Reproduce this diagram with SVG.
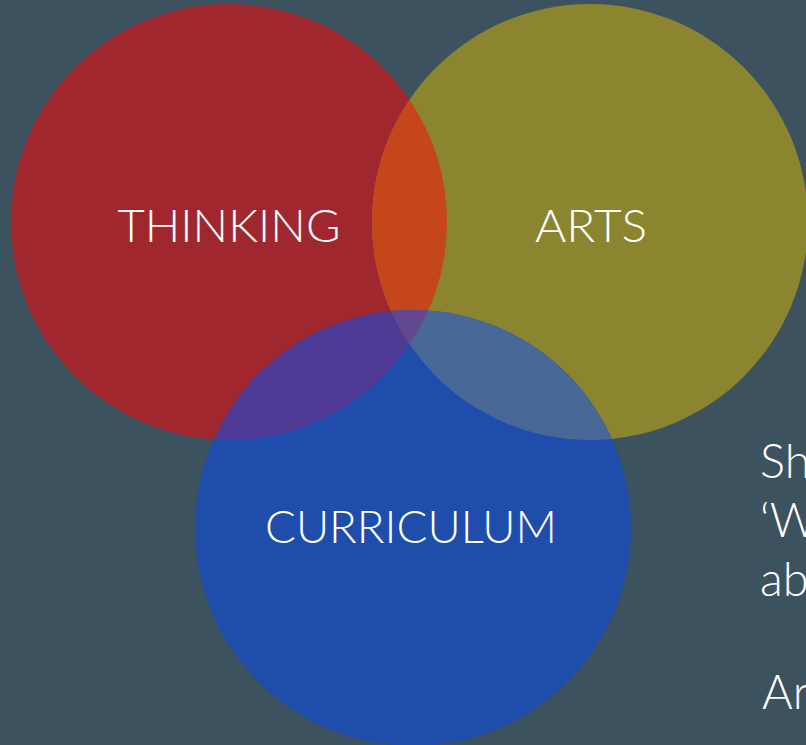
<svg xmlns="http://www.w3.org/2000/svg" width="806" height="745" viewBox="0 0 806 745">
  <style>
    .label { font-family: "Lato", "Noto Sans", "Liberation Sans", sans-serif; font-size: 46px; font-weight: 300; fill: #ffffff; text-anchor: middle; }
    .side { font-family: "Lato", "Noto Sans", "Liberation Sans", sans-serif; font-size: 47px; font-weight: 300; fill: #ffffff; }
  </style>
  <defs>
    <clipPath id="clip-thinking"><circle cx="229" cy="222" r="218"/></clipPath>
    <clipPath id="clip-arts"><circle cx="590" cy="222" r="218"/></clipPath>
  </defs>

  <rect width="806" height="745" fill="#3c525f"/>

  <!-- base circles -->
  <g id="thinking">
    <circle cx="229" cy="222" r="218" fill="#a1272f"/>
  </g>
  <g id="arts">
    <circle cx="590" cy="222" r="218" fill="#8b8530"/>
  </g>

  <!-- thinking ∩ arts -->
  <g id="thinking-arts" clip-path="url(#clip-thinking)">
    <circle cx="590" cy="222" r="218" fill="#c4461a"/>
  </g>

  <g id="curriculum">
    <circle cx="413" cy="528" r="218" fill="#1f4dac"/>
  </g>

  <!-- curriculum overlaps -->
  <g id="curriculum-thinking" clip-path="url(#clip-thinking)">
    <circle cx="413" cy="528" r="218" fill="#4e3995"/>
  </g>
  <g id="curriculum-arts" clip-path="url(#clip-arts)">
    <circle cx="413" cy="528" r="218" fill="#486898"/>
  </g>
  <g id="all-three" clip-path="url(#clip-arts)">
    <g clip-path="url(#clip-thinking)">
      <circle cx="413" cy="528" r="218" fill="#634890"/>
    </g>
  </g>

  <!-- circle labels -->
  <g id="labels">
    <text class="label" x="229" y="242" textLength="223" lengthAdjust="spacingAndGlyphs">THINKING</text>
    <text class="label" x="591" y="242" textLength="112" lengthAdjust="spacingAndGlyphs">ARTS</text>
    <text class="label" x="411" y="543" textLength="292" lengthAdjust="spacingAndGlyphs">CURRICULUM</text>
  </g>

  <!-- side text, running past the right edge -->
  <g id="side-text">
    <text class="side" x="760" y="478">Sh</text>
    <text class="side" x="760" y="537">‘W</text>
    <text class="side" x="760" y="596">ab</text>
    <text class="side" x="762" y="709">Ar</text>
  </g>
</svg>
